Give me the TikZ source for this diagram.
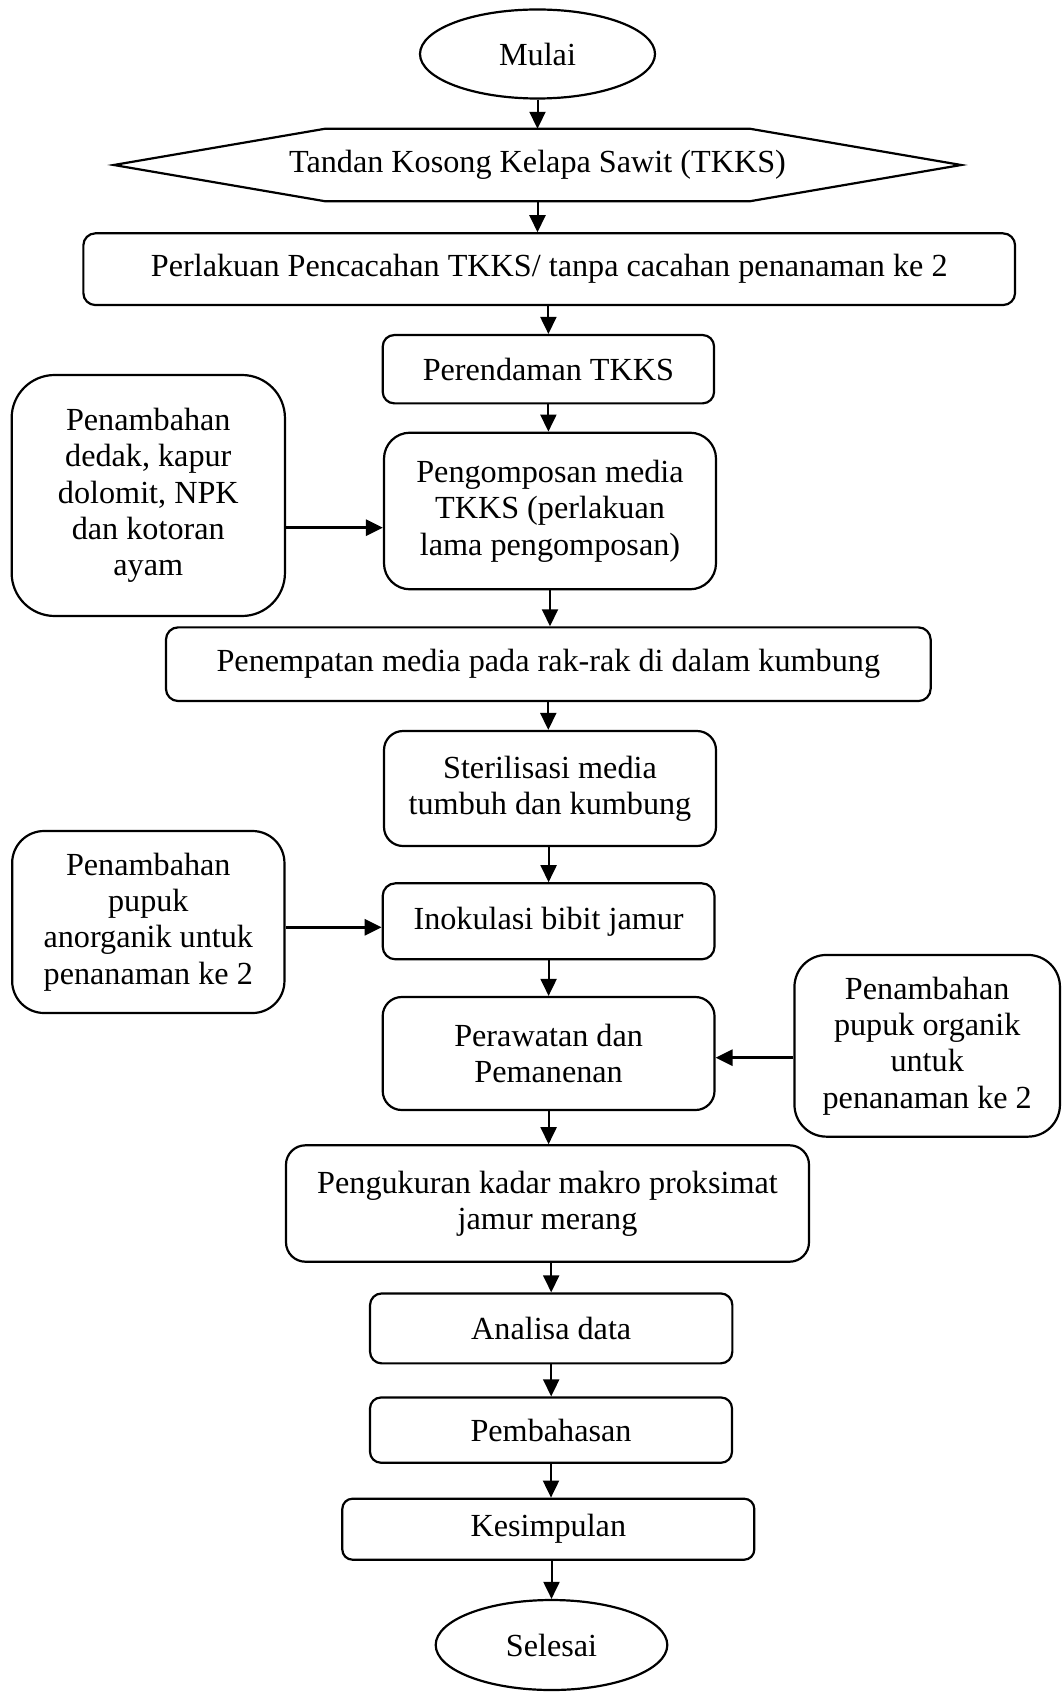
\documentclass[tikz,border=0pt]{standalone}
\usepackage{fontspec}
\setmainfont{Liberation Serif}
\usetikzlibrary{arrows.meta,shapes.geometric}
\begin{document}
\begin{tikzpicture}[x=1pt,y=-1pt,
  font=\fontsize{32.2pt}{36.3pt}\selectfont,
  box/.style={draw, line width=2.2pt, inner sep=0pt, align=center, rounded corners=#1},
  box/.default=12pt,
  oval/.style={draw, ellipse, line width=2.2pt, inner sep=0pt},
  arr/.style={line width=2pt, -{Triangle[length=17pt,width=16pt]}},
  harr/.style={line width=3pt, -{Triangle[length=17pt,width=16pt]}}
]
\useasboundingbox (0,0) rectangle (1062,1693);

\node[oval, minimum width=235pt, minimum height=89pt] (mulai) at (537.5,54) {Mulai};

\node[inner sep=0pt, minimum width=847pt, minimum height=72pt] (hex) at (537.5,165) {Tandan Kosong Kelapa Sawit (TKKS)};
\draw[line width=2.2pt, line join=miter] (hex.west) -- ([xshift=211pt]hex.north west) -- ([xshift=-211pt]hex.north east) -- (hex.east) -- ([xshift=-211pt]hex.south east) -- ([xshift=211pt]hex.south west) -- cycle;

\node[box=12pt, minimum width=931.7pt, minimum height=71.7pt] (perl) at (549.2,269.2) {Perlakuan Pencacahan TKKS/ tanpa cacahan penanaman ke 2};

\node[box=11.4pt, minimum width=331.3pt, minimum height=68.3pt] (rend) at (548.4,369.2) {Perendaman TKKS};

\node[box=43pt, minimum width=273.3pt, minimum height=241pt] (pen1) at (148.3,495.5) {Penambahan\\dedak, kapur\\dolomit, NPK\\dan kotoran\\ayam};

\node[box=26pt, minimum width=332pt, minimum height=156.6pt] (komp) at (550,511) {Pengomposan media\\TKKS (perlakuan\\lama pengomposan)};

\node[box=12.3pt, minimum width=764.7pt, minimum height=73.7pt] (temp) at (548.3,664.2) {Penempatan media pada rak-rak di dalam kumbung};

\node[box=19pt, minimum width=332pt, minimum height=115pt] (steril) at (550,788.5) {Sterilisasi media\\tumbuh dan kumbung};

\node[box=12.7pt, minimum width=331.8pt, minimum height=76pt] (inok) at (548.6,921.3) {Inokulasi bibit jamur};

\node[box=32pt, minimum width=272.3pt, minimum height=182pt] (pen2) at (148.3,922) {Penambahan\\pupuk\\anorganik untuk\\penanaman ke 2};

\node[box=19pt, minimum width=331.8pt, minimum height=113pt] (rawat) at (548.6,1053.5) {Perawatan dan\\Pemanenan};

\node[box=32pt, minimum width=265.5pt, minimum height=181.7pt] (pen3) at (927.2,1045.8) {Penambahan\\pupuk organik\\untuk\\penanaman ke 2};

\node[box=19.4pt, minimum width=523pt, minimum height=116.4pt] (ukur) at (547.5,1203.5) {Pengukuran kadar makro proksimat\\jamur merang};

\node[box=11.6pt, minimum width=362.3pt, minimum height=69.9pt] (anal) at (551.2,1328.4) {Analisa data};

\node[box=10.9pt, minimum width=362pt, minimum height=65.2pt] (bahas) at (551,1430.1) {Pembahasan};

\node[box=10.2pt, minimum width=412pt, minimum height=61pt] (simp) at (548.3,1529.2) {Kesimpulan};

\node[oval, minimum width=231.6pt, minimum height=90pt] (selesai) at (551.5,1645) {Selesai};

\draw[arr] (mulai.south) -- (mulai.south |- hex.north);
\draw[arr] (hex.south) -- (hex.south |- perl.north);
\draw[arr] (rend.north |- perl.south) -- (rend.north);
\draw[arr] (rend.south) -- (rend.south |- komp.north);
\draw[arr] (komp.south) -- (komp.south |- temp.north);
\draw[arr] (temp.south) -- (temp.south |- steril.north);
\draw[arr] (inok.north |- steril.south) -- (inok.north);
\draw[arr] (inok.south) -- (inok.south |- rawat.north);
\draw[arr] (rawat.south) -- (rawat.south |- ukur.north);
\draw[arr] (anal.north |- ukur.south) -- (anal.north);
\draw[arr] (anal.south) -- (anal.south |- bahas.north);
\draw[arr] (bahas.south) -- (bahas.south |- simp.north);
\draw[arr] (selesai.north |- simp.south) -- (selesai.north);

\draw[harr] ([yshift=-32.2pt]pen1.east) -- ([yshift=-32.2pt]pen1.east -| komp.west);
\draw[harr] ([yshift=-5.3pt]pen2.east) -- ([yshift=-5.3pt]pen2.east -| inok.west);
\draw[harr] ([yshift=-11.9pt]pen3.west) -- ([yshift=-11.9pt]pen3.west -| rawat.east);
\end{tikzpicture}
\end{document}
